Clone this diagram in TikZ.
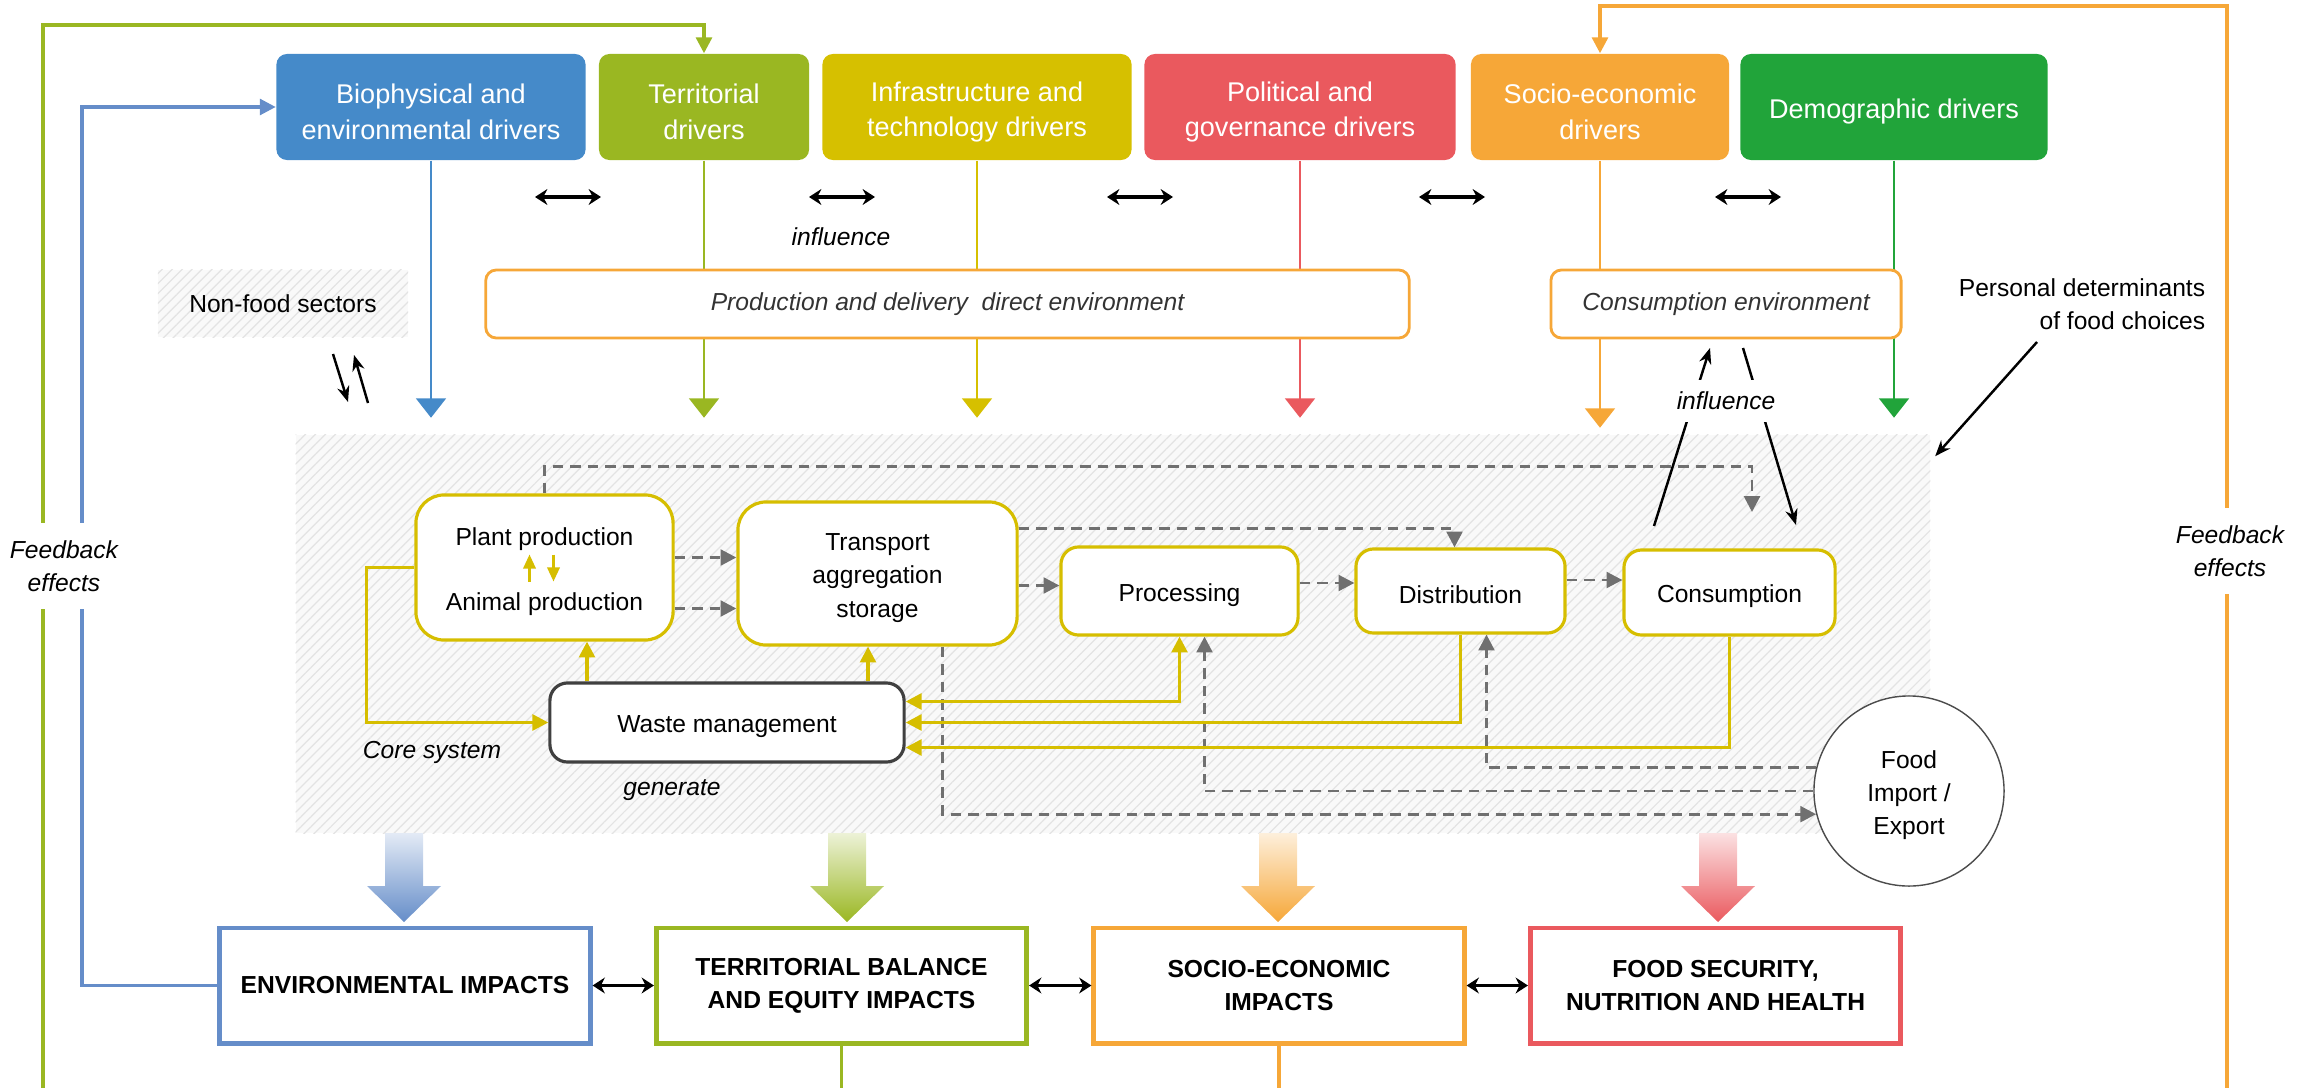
\documentclass[tikz,border=0pt]{standalone}
\usepackage{fontspec}
\setmainfont{Liberation Sans}
\usetikzlibrary{arrows.meta,patterns.meta,calc}

\definecolor{biocol}{RGB}{69,138,201}
\definecolor{terrcol}{RGB}{154,183,34}
\definecolor{infracol}{RGB}{214,192,0}
\definecolor{polcol}{RGB}{234,89,94}
\definecolor{sociocol}{RGB}{246,167,56}
\definecolor{democol}{RGB}{33,164,58}
\definecolor{envcol}{RGB}{101,141,201}
\definecolor{coreyel}{RGB}{214,190,0}
\definecolor{dashgray}{RGB}{112,112,112}
\definecolor{wastegray}{RGB}{64,64,64}

\newcommand{\txtdrv}{\fontsize{7.7}{10.2}\selectfont}
\newcommand{\txtsm}{\fontsize{7}{9.4}\selectfont}
\newcommand{\txtit}{\fontsize{7}{9.4}\selectfont\itshape}
\newcommand{\txtimp}{\fontsize{7}{9.4}\selectfont\bfseries}
\newcommand{\drvup}{\rule{0pt}{8.4pt}}
\newcommand{\smup}{\rule{0pt}{7.4pt}}

\tikzset{
  driver/.style={fill=#1, text=white, rounded corners=3pt, minimum height=1.06cm, align=center, font=\txtdrv, inner sep=0pt},
  drvline/.style={draw=#1, line width=0.5pt, -{Triangle[width=8.5pt,length=5.5pt]}},
  envbox/.style={draw=sociocol, line width=0.8pt, fill=white, rounded corners=3pt, minimum height=0.68cm, font=\txtit, text=black!80},
  hatch/.style={fill=gray!5, postaction={pattern={Lines[angle=45,distance=2pt,line width=0.35pt]}, pattern color=gray!22}, inner sep=0pt},
  corebox/.style={draw=coreyel, line width=0.9pt, fill=white, rounded corners=#1, align=center, font=\txtsm, inner sep=0pt},
  corebox/.default=5pt,
  impact/.style={draw=#1, line width=1.4pt, fill=white, minimum width=3.7cm, minimum height=1.15cm, align=center, font=\txtimp, inner sep=0pt},
  dsh/.style={draw=dashgray, line width=0.8pt, dash pattern=on 3pt off 2pt, -{Triangle[width=4.5pt,length=4.5pt]}},
  yel/.style={draw=coreyel, line width=0.9pt, -{Triangle[width=4.5pt,length=4.5pt]}},
  fb/.style={draw=#1, line width=0.9pt, -{Triangle[width=4.5pt,length=4.5pt]}},
  dbl/.style={line width=1.1pt, >={Stealth[width=4.5pt,length=3.5pt]}, <->},
  blk/.style={line width=0.7pt, -{Stealth[width=3.5pt,length=4.5pt]}},
}

\begin{document}
\begin{tikzpicture}[x=0.01cm, y=-0.01cm]
\useasboundingbox (0,0) rectangle (2312,1088);

\node[hatch, minimum width=16.34cm, minimum height=3.98cm] (core) at (1113,634) {};
\node[hatch, minimum width=2.5cm, minimum height=0.67cm, font=\txtsm] (nonfood) at (283,303.5) {Non-food sectors};

% drivers
\node[driver=biocol, minimum width=3.09cm] (bio) at (431,107) {\drvup Biophysical and\\environmental drivers};
\node[driver=terrcol, minimum width=2.10cm] (terr) at (704,107) {\drvup Territorial\\drivers};
\node[driver=infracol, minimum width=3.09cm] (infra) at (977,107) {\drvup Infrastructure and\\technology drivers};
\node[driver=polcol, minimum width=3.11cm] (pol) at (1300,107) {\drvup Political and\\governance drivers};
\node[driver=sociocol, minimum width=2.58cm] (socio) at (1600,107) {\drvup Socio-economic\\drivers};
\node[driver=democol, minimum width=3.07cm] (demo) at (1894,107) {\drvup Demographic drivers};

\foreach \x in {568,842,1140,1452,1748}
  \draw[dbl] (\x-33,197) -- (\x+33,197);
\node[font=\txtit] (infl) at (841,237) {influence};

\foreach \n/\c in {bio/biocol, terr/terrcol, infra/infracol, pol/polcol, demo/democol}
  \draw[drvline=\c] (\n.south) -- ++(0,257);
\draw[drvline=sociocol] (socio.south) -- ++(0,267);

\node[envbox, minimum width=9.23cm] (prodenv) at (947.5,304) {Production and delivery~ direct environment};
\node[envbox, minimum width=3.50cm] (consenv) at (1726,304) {Consumption environment};

% core system
\node[corebox=8pt, minimum width=2.57cm, minimum height=1.45cm] (plant) at (544.5,567.5) {};
\node[font=\txtsm] (plantlbl) at (544.5,539) {Plant production};
\node[font=\txtsm] (animallbl) at (544.5,604) {Animal production};
\draw[yel, line width=0.7pt, -{Triangle[width=3.5pt,length=4pt]}] ([shift={(-15,14)}]plant.center) -- ([shift={(-15,-13)}]plant.center);
\draw[yel, line width=0.7pt, -{Triangle[width=3.5pt,length=4pt]}] ([shift={(9,-13)}]plant.center) -- ([shift={(9,14)}]plant.center);
\node[corebox=8pt, minimum width=2.79cm, minimum height=1.43cm] (trans) at (877.5,573.5) {\smup Transport\\aggregation\\storage};
\node[corebox, minimum width=2.37cm, minimum height=0.88cm] (proc) at (1179.5,591) {\smup Processing};
\node[corebox, minimum width=2.09cm, minimum height=0.84cm] (distr) at (1460.5,591) {\smup Distribution};
\node[corebox, minimum width=2.11cm, minimum height=0.85cm] (cons) at (1729.5,592.5) {\smup Consumption};
\node[corebox, draw=wastegray, minimum width=3.54cm, minimum height=0.79cm] (waste) at (727,722.5) {\smup Waste management};
\node[circle, draw=gray!60!black, line width=0.4pt, fill=white, minimum size=1.9cm, align=center, font=\txtsm, inner sep=0pt] (food) at (1909,791) {\smup Food\\Import /\\Export};
\node[font=\txtit] (coresys) at (432,752) {Core system};
\node[font=\txtit] (gen) at (672,790) {generate};

\foreach \dy in {-10,41} {
  \coordinate (pa) at ($(plant.east)+(0,\dy)$);
  \draw[dsh] (pa) -- (pa -| trans.west);
}
\coordinate (tb) at ($(trans.east)+(0,12)$);
\draw[dsh] (tb) -- (tb -| proc.west);
\coordinate (pb) at ($(proc.east)+(0,-8)$);
\draw[dsh] (pb) -- (pb -| distr.west);
\coordinate (db) at ($(distr.east)+(0,-11)$);
\draw[dsh] (db) -- (db -| cons.west);
\coordinate (consin) at (1752,512);
\draw[dsh] (plant.north) -- ++(0,-27) -| (consin);
\coordinate (ta) at ($(trans.east)+(0,-45)$);
\draw[dsh] (ta) -| ($(distr.north)+(-6,0)$);
\draw[dsh] ($(trans.south)+(65,0)$) |- (food.194);
\draw[dsh] (food.west) -| ($(proc.south)+(25,0)$);
\draw[dsh] (food.166) -| ($(distr.south)+(26,0)$);

\draw[yel] (plant.west) -- ++(-48,0) |- (waste.west);
\coordinate (wa) at ($(waste.north)+(-140,0)$);
\draw[yel] (wa) -- (wa |- plant.south);
\coordinate (wb) at ($(waste.north)+(141,0)$);
\draw[yel] (wb) -- (wb |- trans.south);
\draw[yel, {Triangle[width=4.5pt,length=4.5pt]}-{Triangle[width=4.5pt,length=4.5pt]}] (proc.south) |- ($(waste.east)+(0,-21)$);
\draw[yel] (distr.south) |- (waste.east);
\draw[yel] (cons.south) |- ($(waste.east)+(0,25)$);

% influence and personal determinants
\coordinate (iu1) at (1654,526);
\coordinate (iu2) at (1710,348);
\coordinate (id1) at (1743,348);
\coordinate (id2) at (1796,525);
\draw[blk] (iu1) -- (iu2);
\draw[blk] (id1) -- (id2);
\node[font=\txtit, fill=white, inner xsep=1pt, inner ysep=3.5pt] (infl2) at (1726,401) {influence};
\node[font=\txtsm, align=right] (pers) at (2082,304) {Personal determinants\\of food choices};
\draw[blk] ($(pers.south)+(-45,0)$) -- ($(core.north east)+(4,22)$);
\coordinate (nf1) at (333,354);
\coordinate (nf2) at (348,402);
\coordinate (nf3) at (368,403);
\coordinate (nf4) at (354,355);
\draw[blk] (nf1) -- (nf2);
\draw[blk] (nf3) -- (nf4);

% impacts
\foreach \x/\c in {404/envcol, 847/terrcol, 1278/sociocol, 1718/polcol}
  \shade[top color=\c!18, bottom color=\c] (\x-19,833) -- (\x+19,833) -- (\x+19,886) -- (\x+37,886) -- (\x,922) -- (\x-37,886) -- (\x-19,886) -- cycle;

\node[impact=envcol] (envimp) at (405,985.5) {ENVIRONMENTAL IMPACTS};
\node[impact=terrcol] (terrimp) at (841.5,985.5) {TERRITORIAL BALANCE\\AND EQUITY IMPACTS};
\node[impact=sociocol] (socimp) at (1279,985.5) {SOCIO-ECONOMIC\\IMPACTS};
\node[impact=polcol] (foodimp) at (1715.5,985.5) {FOOD SECURITY,\\NUTRITION AND HEALTH};
\draw[dbl] (envimp) -- (terrimp);
\draw[dbl] (terrimp) -- (socimp);
\draw[dbl] (socimp) -- (foodimp);

% feedback effects
\draw[fb=terrcol] (terrimp.south) -- ++(0,44) -| (43,25) -| (terr.north);
\draw[fb=envcol] (envimp.west) -| (82,107) -- (bio.west);
\draw[fb=sociocol] (socimp.south) -- ++(0,44) -| (2227,6) -| (socio.north);
\node[font=\txtit, fill=white, align=center, minimum height=0.85cm] (fbleft) at (64,566) {Feedback\\effects};
\node[font=\txtit, fill=white, align=center, minimum height=0.85cm] (fbright) at (2230,551) {Feedback\\effects};
\end{tikzpicture}
\end{document}
